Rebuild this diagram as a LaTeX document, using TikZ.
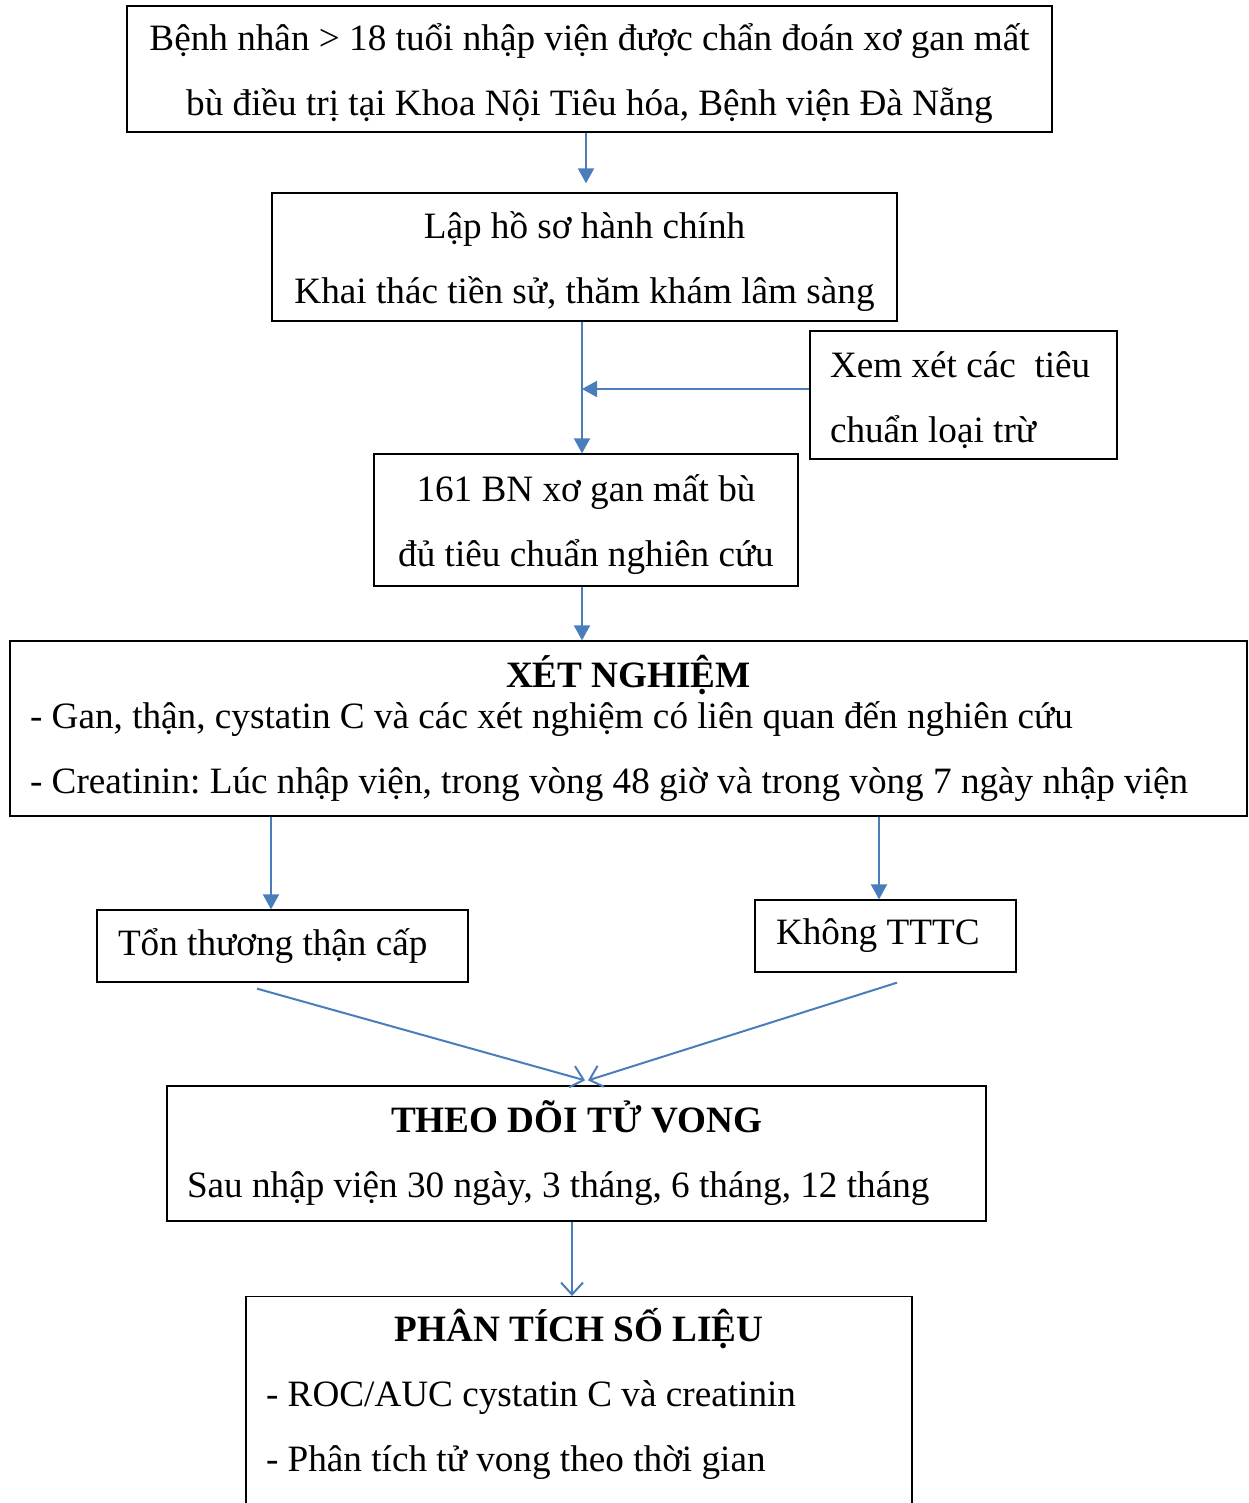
\documentclass[tikz,border=0pt]{standalone}
\usepackage{fontspec}
\setmainfont{Liberation Serif}
\usetikzlibrary{positioning, arrows.meta}
\definecolor{wordblue}{RGB}{74,126,187}
\newcommand\topgap{\rule{0pt}{18pt}}
\frenchspacing

\begin{document}
\begin{tikzpicture}[
  x=0.5pt, y=-0.5pt,
  every node/.style={
    draw=black,
    line width=0.65pt,
    inner sep=0pt,
    font=\fontsize{18.6pt}{32.5pt}\selectfont
  },
  centre box/.style={align=center},
  left box/.style={align=flush left, inner xsep=10pt},
  flow arrow/.style={
    -{Triangle[length=7.5pt,width=8pt]},
    draw=wordblue,
    line width=1pt
  },
  open arrow/.style={
    -{Straight Barb[length=6pt,width=11pt]},
    draw=wordblue,
    line width=1pt
  }
]

\useasboundingbox (0,0) rectangle (1248,1503);

\node(admit)[centre box, minimum width=462.5pt, minimum height=63pt] at (589.5,69) {\topgap Bệnh nhân > 18 tuổi nhập viện được chẩn đoán xơ gan mất\\bù điều trị tại Khoa Nội Tiêu hóa, Bệnh viện Đà Nẵng};

\node(record)[centre box, minimum width=312.5pt, minimum height=64pt] at (584.5,257) {\topgap Lập hồ sơ hành chính\\Khai thác tiền sử, thăm khám lâm sàng};

\node(exclude)[left box, text width=133.5pt, minimum height=64pt] at (963.5,395) {\topgap Xem xét các~ tiêu\\chuẩn loại trừ};

\node(cohort)[centre box, minimum width=212pt, minimum height=66pt] at (586,520) {\topgap 161 BN xơ gan mất bù\\đủ tiêu chuẩn nghiên cứu};

\node(tests)[left box, text width=598.5pt, minimum height=87.5pt] at (628.5,728.5) {\makebox[\linewidth]{\bfseries XÉT NGHIỆM}\\[-12pt]- Gan, thận, cystatin C và các xét nghiệm có liên quan đến nghiên cứu\\- Creatinin: Lúc nhập viện, trong vòng 48 giờ và trong vòng 7 ngày nhập viện};

\node(aki)[left box, inner xsep=10.5pt, text width=164.5pt, minimum height=36pt] at (282.5,946) {Tổn thương thận cấp};
\node(noaki)[left box, inner xsep=10.5pt, text width=109.5pt, minimum height=36pt] at (885.5,936) {Không TTTC};

\node(follow)[left box, text width=389.5pt, minimum height=67.5pt] at (576.5,1153.5) {\makebox[\linewidth]{\bfseries THEO DÕI TỬ VONG}\\Sau nhập viện 30 ngày, 3 tháng, 6 tháng, 12 tháng};

\node(analysis)[left box, text width=313pt, inner ysep=6pt, anchor=north] at (579,1296) {\makebox[\linewidth]{\bfseries PHÂN TÍCH SỐ LIỆU}\\- ROC/AUC cystatin C và creatinin\\- Phân tích tử vong theo thời gian\\[30pt]\mbox{}};

\coordinate (join) at (582,389);

\draw[flow arrow] ([xshift=-1.75pt]admit.south) -- ([xshift=0.75pt,yshift=4.5pt]record.north);
\draw[flow arrow] ([xshift=-1.25pt]record.south) -- ([xshift=-2pt]cohort.north);
\draw[flow arrow] (exclude.west |- join) -- (join);
\draw[flow arrow] ([xshift=-2pt]cohort.south) -- ([xshift=-2pt]cohort.south |- tests.north);
\draw[flow arrow] ([xshift=-5.75pt]aki.north |- tests.south) -- ([xshift=-5.75pt]aki.north);
\draw[flow arrow] ([xshift=-3.25pt]noaki.north |- tests.south) -- ([xshift=-3.25pt]noaki.north);
\draw[open arrow] ([xshift=-12.75pt,yshift=-3pt]aki.south) -- ([xshift=4.25pt,yshift=2.5pt]follow.north);
\draw[open arrow] ([xshift=5.75pt,yshift=-5pt]noaki.south) -- ([xshift=5.75pt,yshift=2.5pt]follow.north);
\draw[open arrow] ([xshift=-2.25pt]follow.south) -- ([xshift=-2.25pt]follow.south |- analysis.north);

\end{tikzpicture}
\end{document}
